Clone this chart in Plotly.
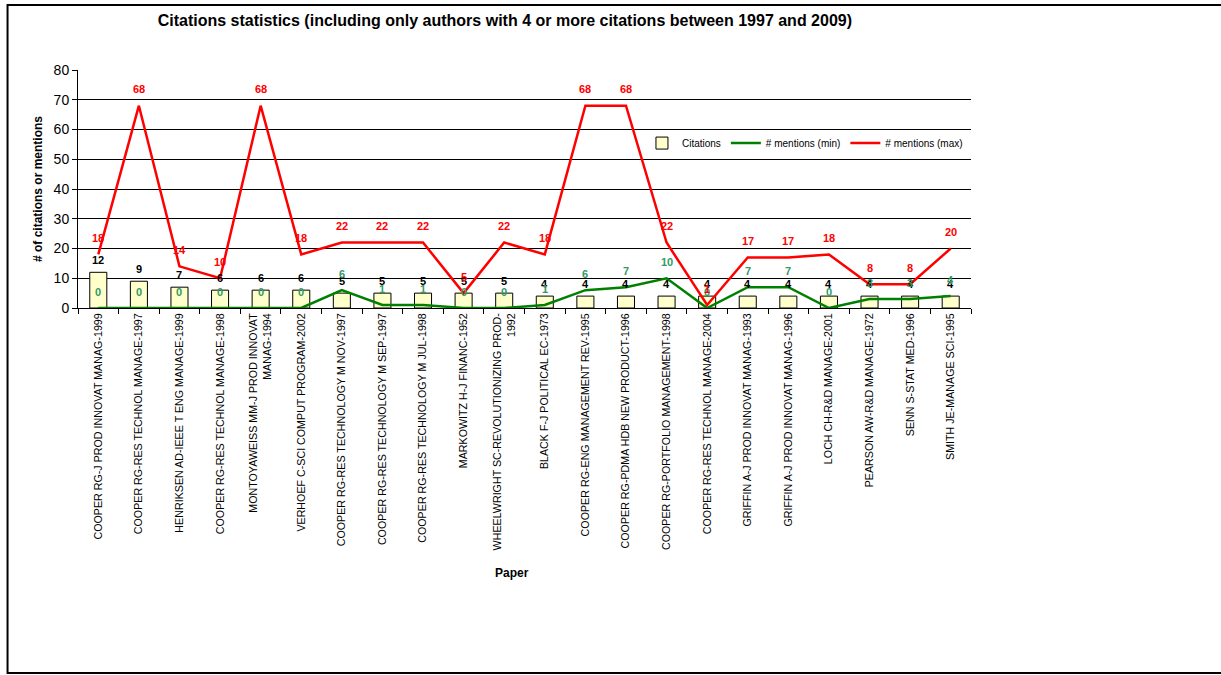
import plotly.graph_objects as go

# Papers cited, in chart order
papers = [
    "COOPER RG-J PROD INNOVAT MANAG-1999",
    "COOPER RG-RES TECHNOL MANAGE-1997",
    "HENRIKSEN AD-IEEE T ENG MANAGE-1999",
    "COOPER RG-RES TECHNOL MANAGE-1998",
    "MONTOYAWEISS MM-J PROD INNOVAT MANAG-1994",
    "VERHOEF C-SCI COMPUT PROGRAM-2002",
    "COOPER RG-RES TECHNOLOGY M NOV-1997",
    "COOPER RG-RES TECHNOLOGY M SEP-1997",
    "COOPER RG-RES TECHNOLOGY M JUL-1998",
    "MARKOWITZ H-J FINANC-1952",
    "WHEELWRIGHT SC-REVOLUTIONIZING PROD-1992",
    "BLACK F-J POLITICAL EC-1973",
    "COOPER RG-ENG MANAGEMENT REV-1995",
    "COOPER RG-PDMA HDB NEW PRODUCT-1996",
    "COOPER RG-PORTFOLIO MANAGEMENT-1998",
    "COOPER RG-RES TECHNOL MANAGE-2004",
    "GRIFFIN A-J PROD INNOVAT MANAG-1993",
    "GRIFFIN A-J PROD INNOVAT MANAG-1996",
    "LOCH CH-R&D MANAGE-2001",
    "PEARSON AW-R&D MANAGE-1972",
    "SENN S-STAT MED-1996",
    "SMITH JE-MANAGE SCI-1995",
]
citations = [12, 9, 7, 6, 6, 6, 5, 5, 5, 5, 5, 4, 4, 4, 4, 4, 4, 4, 4, 4, 4, 4]
mentions_min = [0, 0, 0, 0, 0, 0, 6, 1, 1, 0, 0, 1, 6, 7, 10, 0, 7, 7, 0, 3, 3, 4]
mentions_max = [18, 68, 14, 10, 68, 18, 22, 22, 22, 5, 22, 18, 68, 68, 22, 1, 17, 17, 18, 8, 8, 20]

FONT = "Liberation Sans, Arial, sans-serif"
LABEL_GREEN = "#339966"


def wrap(label, width=36):
    """Break a long label after a space or hyphen so each line fits."""
    if len(label) <= width:
        return label
    split = 0
    for i, ch in enumerate(label):
        if ch in " -" and i + 1 <= width:
            split = i + 1
    if split == 0:
        return label
    return label[:split].rstrip() + "<br>" + wrap(label[split:], width)


cats = [wrap(p) for p in papers]

fig = go.Figure()
fig.add_trace(go.Bar(
    x=cats, y=citations, name="Citations",
    marker=dict(color="#FFFFCC", line=dict(color="#000000", width=1)),
))
fig.add_trace(go.Scatter(
    x=cats, y=mentions_min, name="# mentions (min)", mode="lines",
    line=dict(color="#008000", width=2.5),
))
fig.add_trace(go.Scatter(
    x=cats, y=mentions_max, name="# mentions (max)", mode="lines",
    line=dict(color="#FF0000", width=2.5),
))

# Value labels: citations, then min, then max on top
annotations = []
for values, color, shift in ((citations, "#000000", 12),
                             (mentions_min, LABEL_GREEN, 16.5),
                             (mentions_max, "#FF0000", 16.5)):
    for c, v in zip(cats, values):
        annotations.append(dict(
            x=c, y=v, xref="x", yref="y", text=f"<b>{v}</b>",
            showarrow=False, xanchor="center", yanchor="middle", yshift=shift,
            font=dict(family=FONT, size=11, color=color),
        ))

annotations.append(dict(
    x=-0.0448, y=0.5, xref="paper", yref="paper", textangle=-90,
    xanchor="center", yanchor="middle",
    text="<b># of citations or mentions</b>", showarrow=False,
    font=dict(family=FONT, size=12, color="#000000"),
))
annotations.append(dict(
    x=0.486, y=-1.113, xref="paper", yref="paper",
    xanchor="center", yanchor="middle",
    text="<b>Paper</b>", showarrow=False,
    font=dict(family=FONT, size=12, color="#000000"),
))

shapes = [
    # white panel behind the legend, hiding the gridlines there
    dict(type="rect", xref="paper", yref="paper", x0=0.665, x1=0.9966,
         y0=0.615, y1=0.763, fillcolor="#FFFFFF", line=dict(width=0),
         layer="between"),
    # outer chart frame
    dict(type="rect", xref="paper", yref="paper", x0=-0.0789, x1=1.3,
         y0=-1.534, y1=1.273, line=dict(color="#000000", width=2),
         fillcolor="rgba(0,0,0,0)", layer="above"),
]

fig.update_layout(
    width=1221, height=675,
    margin=dict(l=78, r=250, t=70, b=367),
    paper_bgcolor="#FFFFFF", plot_bgcolor="#FFFFFF",
    font=dict(family=FONT, color="#000000"),
    title=dict(
        text="<b>Citations statistics (including only authors with 4 or more citations between 1997 and 2009)</b>",
        x=0.478, xref="paper", xanchor="center",
        y=1 - 20 / 675, yref="container", yanchor="middle",
        font=dict(family=FONT, size=16, color="#000000"),
    ),
    bargap=0.58,
    showlegend=True,
    legend=dict(
        orientation="h", x=0.9966, xanchor="right", y=0.693, yanchor="middle",
        bgcolor="rgba(255,255,255,0)", itemwidth=30,
        font=dict(family=FONT, size=10, color="#000000"),
    ),
    xaxis=dict(
        type="category", tickangle=-90, tickson="boundaries",
        ticks="outside", ticklen=5, tickcolor="#000000",
        showline=True, linecolor="#000000", linewidth=1,
        showgrid=False, tickfont=dict(family=FONT, size=10.7, color="#000000"),
    ),
    yaxis=dict(
        range=[0, 80], dtick=10, ticks="outside", ticklen=5,
        tickcolor="#000000", showline=True, linecolor="#000000",
        linewidth=1, showgrid=True, gridcolor="#000000", gridwidth=1,
        zeroline=False, tickfont=dict(family=FONT, size=14, color="#000000"),
    ),
    annotations=annotations,
    shapes=shapes,
)

fig.write_html("out.html")
